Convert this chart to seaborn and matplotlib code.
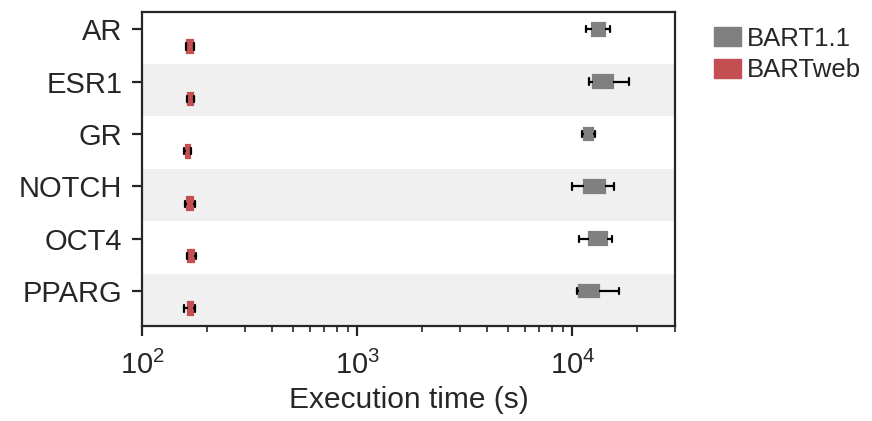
import numpy as np
import pandas as pd
import matplotlib
matplotlib.use("Agg")
import matplotlib.pyplot as plt
from matplotlib.patches import Patch
from matplotlib.ticker import FixedLocator
import seaborn as sns

# Transcription factors benchmarked
genes = ["AR", "ESR1", "GR", "NOTCH", "OCT4", "PPARG"]
methods = ["BART1.1", "BARTweb"]

# BART1.1 execution time summary per gene (seconds)
bart11_min = [11540, 11920, 11090, 9970, 10780, 10520]
bart11_q1 = [12310, 12520, 11300, 11330, 12000, 10710]
bart11_med = [13200, 13900, 11900, 12700, 13200, 11900]
bart11_q3 = [14190, 15410, 12480, 14240, 14450, 13310]
bart11_max = [14970, 18420, 12790, 15680, 15250, 16490]

# BARTweb execution time summary per gene (seconds)
web_min = [159.2, 161.1, 156.8, 158.5, 161.1, 155.8]
web_q1 = [162.0, 163.7, 159.2, 161.3, 163.3, 163.3]
web_med = [166.5, 167.8, 163.0, 166.8, 168.5, 167.5]
web_q3 = [171.6, 172.1, 167.2, 172.7, 174.0, 172.1]
web_max = [174.0, 174.0, 169.0, 175.3, 177.9, 175.3]

palette = {"BART1.1": "#808080", "BARTweb": "#C44E52"}

rows = []
for stats, method in [((bart11_min, bart11_q1, bart11_med, bart11_q3, bart11_max), "BART1.1"),
                      ((web_min, web_q1, web_med, web_q3, web_max), "BARTweb")]:
    for i, g in enumerate(genes):
        for s in stats:
            rows.append({"gene": g, "method": method, "time": s[i]})
df = pd.DataFrame(rows)

sns.set_style("ticks")
plt.rcParams["font.family"] = ["Liberation Sans", "DejaVu Sans"]
plt.rcParams["mathtext.fontset"] = "custom"
plt.rcParams["mathtext.rm"] = "Liberation Sans"
plt.rcParams["mathtext.it"] = "Liberation Sans:italic"
plt.rcParams["mathtext.bf"] = "Liberation Sans:bold"

fig = plt.figure(figsize=(8.72, 4.21), dpi=100)
ax = fig.add_axes([0.1632, 0.2257, 0.7741 - 0.1632, 0.9722 - 0.2257])

width = 0.66
sns.boxplot(data=df, x="time", y="gene", hue="method", order=genes,
            hue_order=methods, palette=palette, orient="y", width=width,
            gap=0.27, whis=(0, 100), log_scale=True, legend=False,
            linewidth=1.6, fliersize=0, saturation=1,
            whiskerprops=dict(color="black", linewidth=1.6),
            capprops=dict(color="black", linewidth=1.6),
            medianprops=dict(linewidth=0), ax=ax)

# boxes drawn without outline
for p in ax.patches:
    p.set_edgecolor(p.get_facecolor())

# alternating row shading
for i in range(len(genes)):
    if i % 2 == 1:
        ax.axhspan(i - 0.5, i + 0.5, color="#f0f0f0", zorder=0, lw=0)

ax.set_ylim(len(genes) - 0.5, -0.5)
ax.set_xlim(100, 30000)
ax.yaxis.set_major_locator(FixedLocator(np.arange(len(genes)) - width / 4))
ax.set_yticklabels(genes)
ax.tick_params(axis="y", labelsize=21, length=7, width=1.6, pad=7.5)
ax.tick_params(axis="x", which="major", labelsize=21, length=7, width=1.6, pad=11)
ax.tick_params(axis="x", which="minor", length=4, width=1.2)
ax.set_ylabel("")
ax.set_xlabel("Execution time (s)", fontsize=21.5, labelpad=4)

for s in ax.spines.values():
    s.set_linewidth(1.6)
    s.set_color("#262626")

handles = [Patch(facecolor=palette[m], edgecolor=palette[m], label=m) for m in methods]
fig.legend(handles=handles, loc="upper left", bbox_to_anchor=(701 / 872, 1 - 14 / 421),
           frameon=False, fontsize=18.5, borderpad=0, handlelength=1.05,
           handleheight=0.76, handletextpad=0.24, labelspacing=0.28)

fig.savefig("out.png", dpi=100)
